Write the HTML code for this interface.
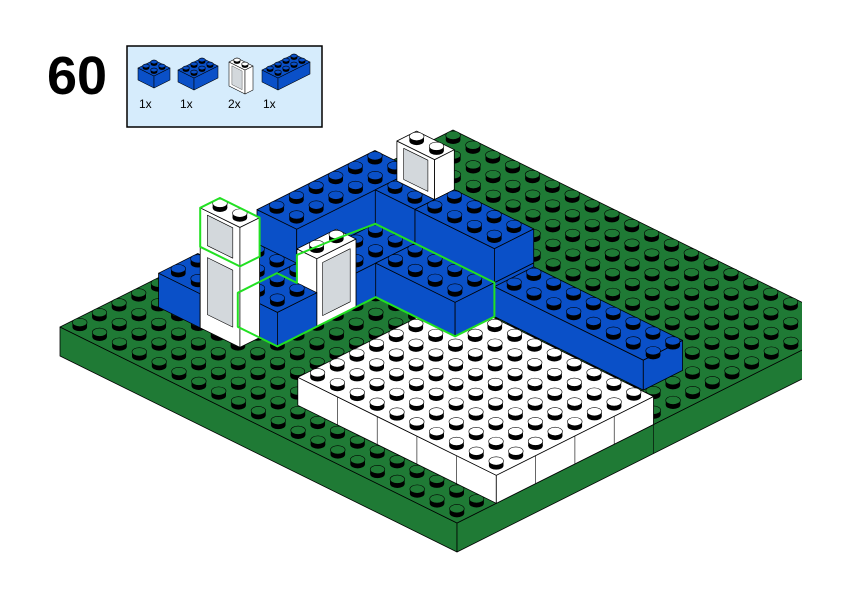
<!DOCTYPE html>
<html><head><meta charset="utf-8"><style>
html,body{margin:0;padding:0;background:#fff;}
svg{display:block;}
</style></head><body>
<svg id="s" width="842" height="596" xmlns="http://www.w3.org/2000/svg" font-family="Liberation Sans, Arial, sans-serif">
<defs><clipPath id="cp"><rect x="0" y="0" width="802" height="596"/></clipPath></defs>
<rect width="842" height="596" fill="#fff"/>
<text x="47" y="94" font-size="54" font-weight="bold" fill="#000">60</text>
<rect x="127" y="46" width="195" height="81" fill="#d6ecfc" stroke="#000" stroke-width="1.5"/>
<text x="139" y="108" font-size="12">1x</text>
<text x="180" y="108" font-size="12">1x</text>
<text x="228" y="108" font-size="12">2x</text>
<text x="263" y="108" font-size="12">1x</text>
<g id="parts"></g>
<g id="base" clip-path="url(#cp)"></g>
<g id="scene"></g>
<g id="hl"></g>
</svg>
<script>
var NS="http://www.w3.org/2000/svg";
function el(p,t,a){var e=document.createElementNS(NS,t);for(var k in a)e.setAttribute(k,a[k]);p.appendChild(e);return e;}
var BLUE="#0a50c8",GREEN="#1f7a35",WHITE="#ffffff",GLASS="#d3d8dc";
function mkS(ox,oy,ax,ay,bx,by){return function(i,j,k){return [ox+ax*i+bx*j, oy+ay*i+by*j-k];};}
var S=mkS(60,327,19.85,9.8,19.65,-9.85);
function poly(g,pts,fill,sw){el(g,"polygon",{points:pts.map(function(p){return p[0].toFixed(1)+","+p[1].toFixed(1);}).join(" "),fill:fill,stroke:"#000","stroke-width":sw||0.8,"stroke-linejoin":"round"});}
function stud(g,x,y,col,rx,ry,h){
  el(g,"ellipse",{cx:x,cy:y,rx:rx,ry:ry,fill:"#000"});
  el(g,"rect",{x:x-rx,y:y-h,width:2*rx,height:h,fill:"#000"});
  el(g,"ellipse",{cx:x,cy:y-h,rx:rx,ry:ry,fill:col,stroke:"#000","stroke-width":0.6});
}
function box(g,P,i0,i1,j0,j1,k0,k1,col,studs,sc){
  sc=sc||1;
  poly(g,[P(i0,j0,k1),P(i1,j0,k1),P(i1,j0,k0),P(i0,j0,k0)],col,0.8*Math.max(sc,0.7));
  poly(g,[P(i1,j0,k1),P(i1,j1,k1),P(i1,j1,k0),P(i1,j0,k0)],col,0.8*Math.max(sc,0.7));
  poly(g,[P(i0,j0,k1),P(i0,j1,k1),P(i1,j1,k1),P(i1,j0,k1)],col,0.8*Math.max(sc,0.7));
  if(studs){
    for(var p=0;p<Math.round(i1-i0);p++)for(var q=Math.round(j1-j0)-1;q>=0;q--){
      var c=P(i0+p+0.5,j0+q+0.5,k1);stud(g,c[0],c[1],col,7.3*sc,4.2*sc,4.5*sc);
    }
  }
}
function glassJ(g,P,i0,i1,j0,k0,k1,sc){
  var di=(i1-i0),dk=(k1-k0);
  poly(g,[P(i0+di*0.18,j0,k1-dk*0.1),P(i1-di*0.18,j0,k1-dk*0.1),P(i1-di*0.18,j0,k0+dk*0.12),P(i0+di*0.18,j0,k0+dk*0.12)],GLASS,0.6*(sc||1));
}
function glassI(g,P,i1,j0,j1,k0,k1,sc){
  var dj=(j1-j0),dk=(k1-k0);
  poly(g,[P(i1,j0+dj*0.15,k1-dk*0.1),P(i1,j1-dj*0.15,k1-dk*0.1),P(i1,j1-dj*0.15,k0+dk*0.12),P(i1,j0+dj*0.15,k0+dk*0.12)],GLASS,0.6*(sc||1));
}
var base=document.getElementById("base"),sc=document.getElementById("scene"),hl=document.getElementById("hl"),parts=document.getElementById("parts");
box(base,S,0,20,0,20,-29,0,GREEN,true);
(function(){var a=S(20,10,0),b=S(20,10,-29);el(base,"line",{x1:a[0],y1:a[1],x2:b[0],y2:b[1],stroke:"#000","stroke-width":0.6});})();
box(sc,S,10,20,2,10,0,28,WHITE,true);
for(var t=12;t<20;t+=2){var a=S(t,2,28),b=S(t,2,0);el(sc,"line",{x1:a[0],y1:a[1],x2:b[0],y2:b[1],stroke:"#000","stroke-width":0.6});}
for(var t=4;t<10;t+=2){var a=S(20,t,28),b=S(20,t,0);el(sc,"line",{x1:a[0],y1:a[1],x2:b[0],y2:b[1],stroke:"#000","stroke-width":0.6});}
var H=34;
box(sc,S,2.5,4.5,5.5,13.5,0,H,BLUE,true);
box(sc,S,2.5,4.5,7.5,13.5,H,2*H,BLUE,true);
box(sc,S,4.5,10.5,11.5,13.5,0,H,BLUE,true);
box(sc,S,4.5,6.5,11.5,13.5,H,2*H,BLUE,true);
box(sc,S,4.6,6.5,12.5,13.5,2*H,2*H+40,WHITE,true);
glassJ(sc,S,4.6,6.5,12.5,2*H,2*H+40);
box(sc,S,6.5,10.5,11.5,13.5,H,2*H,BLUE,true);
box(sc,S,10.5,18,11.5,13.5,0,30,BLUE,true);
box(sc,S,4.5,6.5,8.5,11.5,0,H,BLUE,true);
box(sc,S,4.5,5.5,6.5,8.5,0,H,BLUE,true);
box(sc,S,5.5,6.5,6.5,8.5,0,68,WHITE,true);
glassI(sc,S,6.5,6.5,8.5,0,68);
box(sc,S,6.5,10.5,9.5,11.5,0,H,BLUE,true);
box(sc,S,1.5,3.6,3.5,5.5,0,H,BLUE,true);
box(sc,S,4.5,6.5,4.5,6.5,0,H,BLUE,true);
box(sc,S,3.6,5.6,3.5,4.5,0,81,WHITE,true);
glassJ(sc,S,3.6,5.6,3.5,8,81);
box(sc,S,3.6,5.6,3.5,4.5,81,120,WHITE,true);
glassJ(sc,S,3.6,5.6,3.5,81,120);
function pl(pts){el(hl,"polygon",{points:pts.map(function(p){return p[0].toFixed(1)+","+p[1].toFixed(1);}).join(" "),fill:"none",stroke:"#22e022","stroke-width":2,"stroke-linejoin":"round"});}
pl([S(4.5,4.5,H),S(4.5,4.5,0),S(6.5,4.5,0),S(6.5,9.5,0),S(10.5,9.5,0),S(10.5,11.5,0),S(10.5,11.5,H),S(4.5,11.5,H),[333,240],S(5.5,6.5,62),S(5.5,6.5,H),S(4.5,6.5,H)]);
pl([S(3.6,3.5,120),S(3.6,4.5,120),S(5.6,4.5,120),S(5.6,4.5,81),S(5.6,3.5,81),S(3.6,3.5,81)]);
var M1=mkS(138,80,8,4,8,-4); box(parts,M1,0,2,0,2,0,12,BLUE,true,0.45);
var M2=mkS(178,82,8,4,8,-4); box(parts,M2,0,2,0,3,0,12,BLUE,true,0.45);
var M3=mkS(229,86,8,4,8,-4); box(parts,M3,0,2,0,1,0,24,WHITE,true,0.45); glassJ(parts,M3,0,2,0,0,24,0.5);
var M4=mkS(262,82,8,4,8,-4); box(parts,M4,0,2,0,4,0,12,BLUE,true,0.45);
</script>
</body></html>
